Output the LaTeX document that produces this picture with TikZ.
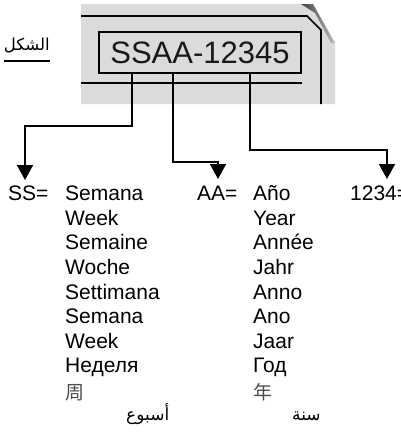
\documentclass[tikz,border=0pt]{standalone}
\usepackage{fontspec}
\setmainfont{Liberation Sans}
\newfontfamily\cjk{Noto Sans CJK SC}
\newfontfamily\arabicfont[Script=Arabic]{DejaVu Sans}
\TeXXeTstate=1
\usetikzlibrary{arrows.meta}

\tikzset{
  lbl/.style={font=\fontsize{21}{25}\selectfont, anchor=base west, inner sep=0pt},
  conn/.style={line width=1.6pt, -{Triangle[width=16pt,length=15pt]}},
}

\begin{document}
\begin{tikzpicture}[x=1pt,y=-1pt]
    \useasboundingbox (0,0) rectangle (401,437);

    % Title
    \node[anchor=base east, inner sep=0pt, font=\arabicfont\fontsize{16.5}{20}\selectfont] (title) at (50,50) {\beginR الشكل\endR};
    \draw[line width=1.2pt] (4,61) -- (50,61);

    % Gray plate
    \fill[black!14] (81,4) -- (313,4) -- (335,43) -- (335,104) -- (81,104) -- cycle;
    \shade[left color=black!75, right color=black!25] (301,4) -- (313,4) -- (335,43) -- (331,43) -- (315,13) -- cycle;

    % Lines on the plate
    \draw[line width=1.6pt] (81,16) -- (307,16) -- (321,30) -- (321,104);
    \draw[line width=1.6pt] (81,83) -- (302,83);

    % Code box
    \node[draw, line width=1.6pt, minimum width=202, minimum height=41, inner sep=0pt,
          font=\fontsize{31}{36}\selectfont, text=black!90] (code) at (200,52.5) {SSAA-12345};

    % Arrow tips
    \coordinate (sstip) at (25,180);
    \coordinate (aatip) at (218,179);
    \coordinate (numtip) at (387,179);

    % Connectors
    \draw[conn] ([xshift=-68pt]code.south) -- ++(0,52) -| (sstip);
    \draw[conn] ([xshift=-27pt]code.south) -- ++(0,88) -| (aatip);
    \draw[conn] ([xshift=50pt]code.south) -- ++(0,76) -| (numtip);

    % Keys
    \node[lbl] (sskey) at (8,200.7) {SS=};
    \node[lbl] (aakey) at (197,200.7) {AA=};
    \node[lbl] (numkey) at (350,200.7) {1234=};

    % Week
    \node[lbl] (ss1) at (65,200.7) {Semana};
    \node[lbl] (ss2) at (65,225.3) {Week};
    \node[lbl] (ss3) at (65,249.9) {Semaine};
    \node[lbl] (ss4) at (65,274.5) {Woche};
    \node[lbl] (ss5) at (65,299.1) {Settimana};
    \node[lbl] (ss6) at (65,323.7) {Semana};
    \node[lbl] (ss7) at (65,348.3) {Week};
    \node[lbl] (ss8) at (65,372.9) {Неделя};
    \node[lbl, font=\cjk\fontsize{19}{22}\selectfont, text=black!70] (ss9) at (65,399) {周};
    \node[lbl, font=\arabicfont\fontsize{17}{20}\selectfont] (ss10) at (126,420) {\beginR أسبوع\endR};

    % Year
    \node[lbl] (aa1) at (253,200.7) {Año};
    \node[lbl] (aa2) at (253,225.3) {Year};
    \node[lbl] (aa3) at (253,249.9) {Année};
    \node[lbl] (aa4) at (253,274.5) {Jahr};
    \node[lbl] (aa5) at (253,299.1) {Anno};
    \node[lbl] (aa6) at (253,323.7) {Ano};
    \node[lbl] (aa7) at (253,348.3) {Jaar};
    \node[lbl] (aa8) at (253,372.9) {Год};
    \node[lbl, font=\cjk\fontsize{19}{22}\selectfont, text=black!70] (aa9) at (253,399) {年};
    \node[lbl, font=\arabicfont\fontsize{17}{20}\selectfont] (aa10) at (292,420) {\beginR سنة\endR};
\end{tikzpicture}
\end{document}
